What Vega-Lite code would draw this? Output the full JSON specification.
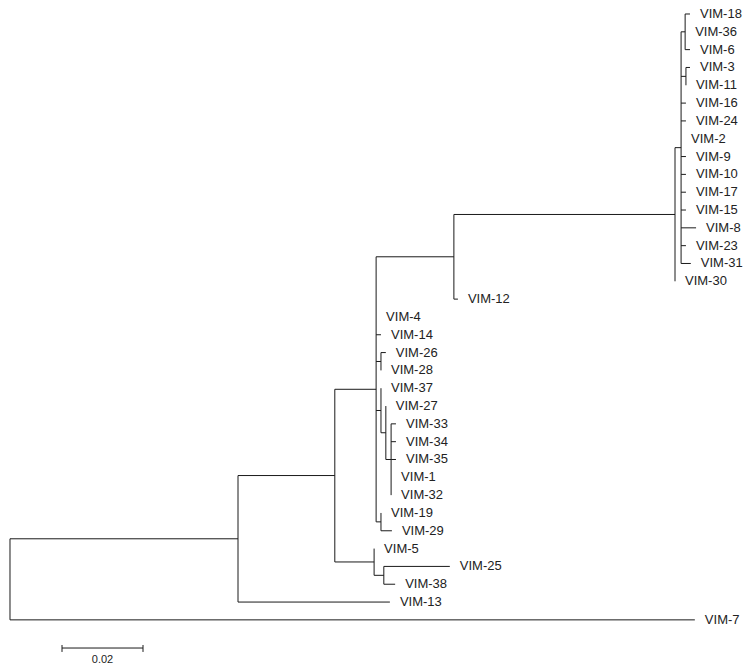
{
  "$schema": "https://vega.github.io/schema/vega-lite/v6.json",
  "width": 750,
  "height": 670,
  "autosize": {"type": "none"},
  "padding": 0,
  "background": "white",
  "config": {"view": {"stroke": null}},
  "datasets": {
    "branches": [
      {"x": 0, "x2": 0.0563, "y": 29.45, "y2": 29.45},
      {"x": 0, "x2": 0.1691, "y": 34, "y2": 34},
      {"x": 0.0563, "x2": 0.0802, "y": 25.9, "y2": 25.9},
      {"x": 0.0563, "x2": 0.0938, "y": 33, "y2": 33},
      {"x": 0.0802, "x2": 0.0904, "y": 21.06, "y2": 21.06},
      {"x": 0.0802, "x2": 0.0899, "y": 30.75, "y2": 30.75},
      {"x": 0.0899, "x2": 0.0923, "y": 31.5, "y2": 31.5},
      {"x": 0.0923, "x2": 0.1086, "y": 31, "y2": 31},
      {"x": 0.0923, "x2": 0.0951, "y": 32, "y2": 32},
      {"x": 0.0904, "x2": 0.1096, "y": 13.625, "y2": 13.625},
      {"x": 0.0904, "x2": 0.0916, "y": 18, "y2": 18},
      {"x": 0.0904, "x2": 0.0916, "y": 19.5, "y2": 19.5},
      {"x": 0.0916, "x2": 0.0928, "y": 19, "y2": 19},
      {"x": 0.0904, "x2": 0.0916, "y": 22.25, "y2": 22.25},
      {"x": 0.0916, "x2": 0.0928, "y": 23.5, "y2": 23.5},
      {"x": 0.0928, "x2": 0.0941, "y": 25, "y2": 25},
      {"x": 0.0941, "x2": 0.0953, "y": 23, "y2": 23},
      {"x": 0.0941, "x2": 0.0953, "y": 24, "y2": 24},
      {"x": 0.0941, "x2": 0.0953, "y": 25, "y2": 25},
      {"x": 0.0904, "x2": 0.0916, "y": 28.5, "y2": 28.5},
      {"x": 0.0916, "x2": 0.0943, "y": 29, "y2": 29},
      {"x": 0.1096, "x2": 0.1642, "y": 11.25, "y2": 11.25},
      {"x": 0.1096, "x2": 0.1106, "y": 16, "y2": 16},
      {"x": 0.1642, "x2": 0.1657, "y": 7.5, "y2": 7.5},
      {"x": 0.1657, "x2": 0.1667, "y": 1, "y2": 1},
      {"x": 0.1667, "x2": 0.1679, "y": 0, "y2": 0},
      {"x": 0.1667, "x2": 0.1679, "y": 2, "y2": 2},
      {"x": 0.1657, "x2": 0.1669, "y": 3.5, "y2": 3.5},
      {"x": 0.1669, "x2": 0.1679, "y": 3, "y2": 3},
      {"x": 0.1657, "x2": 0.1669, "y": 5, "y2": 5},
      {"x": 0.1657, "x2": 0.1669, "y": 6, "y2": 6},
      {"x": 0.1657, "x2": 0.1669, "y": 8, "y2": 8},
      {"x": 0.1657, "x2": 0.1669, "y": 9, "y2": 9},
      {"x": 0.1657, "x2": 0.1669, "y": 10, "y2": 10},
      {"x": 0.1657, "x2": 0.1669, "y": 11, "y2": 11},
      {"x": 0.1657, "x2": 0.1694, "y": 12, "y2": 12},
      {"x": 0.1657, "x2": 0.1669, "y": 13, "y2": 13},
      {"x": 0.1657, "x2": 0.1681, "y": 14, "y2": 14},
      {"x": 0, "x2": 0, "y": 29.45, "y2": 34},
      {"x": 0.0563, "x2": 0.0563, "y": 25.9, "y2": 33},
      {"x": 0.0802, "x2": 0.0802, "y": 21.06, "y2": 30.75},
      {"x": 0.0899, "x2": 0.0899, "y": 30, "y2": 31.5},
      {"x": 0.0923, "x2": 0.0923, "y": 31, "y2": 32},
      {"x": 0.0904, "x2": 0.0904, "y": 13.625, "y2": 28.5},
      {"x": 0.0916, "x2": 0.0916, "y": 19, "y2": 20},
      {"x": 0.0916, "x2": 0.0916, "y": 21, "y2": 23.5},
      {"x": 0.0928, "x2": 0.0928, "y": 22, "y2": 25},
      {"x": 0.0941, "x2": 0.0941, "y": 23, "y2": 27},
      {"x": 0.0916, "x2": 0.0916, "y": 28, "y2": 29},
      {"x": 0.1096, "x2": 0.1096, "y": 11.25, "y2": 16},
      {"x": 0.1642, "x2": 0.1642, "y": 7.5, "y2": 15},
      {"x": 0.1657, "x2": 0.1657, "y": 1, "y2": 14},
      {"x": 0.1667, "x2": 0.1667, "y": 0, "y2": 2},
      {"x": 0.1669, "x2": 0.1669, "y": 3, "y2": 4},
      {"x": 0.01284, "x2": 0.03284, "y": 35.58, "y2": 35.58},
      {"x": 0.01284, "x2": 0.01284, "y": 35.41, "y2": 35.8},
      {"x": 0.03284, "x2": 0.03284, "y": 35.41, "y2": 35.8}
    ],
    "leaves": [
      {"name": "VIM-18", "row": 0, "end": 0.1679},
      {"name": "VIM-36", "row": 1, "end": 0.1667},
      {"name": "VIM-6", "row": 2, "end": 0.1679},
      {"name": "VIM-3", "row": 3, "end": 0.1679},
      {"name": "VIM-11", "row": 4, "end": 0.1669},
      {"name": "VIM-16", "row": 5, "end": 0.1669},
      {"name": "VIM-24", "row": 6, "end": 0.1669},
      {"name": "VIM-2", "row": 7, "end": 0.1657},
      {"name": "VIM-9", "row": 8, "end": 0.1669},
      {"name": "VIM-10", "row": 9, "end": 0.1669},
      {"name": "VIM-17", "row": 10, "end": 0.1669},
      {"name": "VIM-15", "row": 11, "end": 0.1669},
      {"name": "VIM-8", "row": 12, "end": 0.1694},
      {"name": "VIM-23", "row": 13, "end": 0.1669},
      {"name": "VIM-31", "row": 14, "end": 0.1681},
      {"name": "VIM-30", "row": 15, "end": 0.1642},
      {"name": "VIM-12", "row": 16, "end": 0.1106},
      {"name": "VIM-4", "row": 17, "end": 0.0904},
      {"name": "VIM-14", "row": 18, "end": 0.0916},
      {"name": "VIM-26", "row": 19, "end": 0.0928},
      {"name": "VIM-28", "row": 20, "end": 0.0916},
      {"name": "VIM-37", "row": 21, "end": 0.0916},
      {"name": "VIM-27", "row": 22, "end": 0.0928},
      {"name": "VIM-33", "row": 23, "end": 0.0953},
      {"name": "VIM-34", "row": 24, "end": 0.0953},
      {"name": "VIM-35", "row": 25, "end": 0.0953},
      {"name": "VIM-1", "row": 26, "end": 0.0941},
      {"name": "VIM-32", "row": 27, "end": 0.0941},
      {"name": "VIM-19", "row": 28, "end": 0.0916},
      {"name": "VIM-29", "row": 29, "end": 0.0943},
      {"name": "VIM-5", "row": 30, "end": 0.0899},
      {"name": "VIM-25", "row": 31, "end": 0.1086},
      {"name": "VIM-38", "row": 32, "end": 0.0951},
      {"name": "VIM-13", "row": 33, "end": 0.0938},
      {"name": "VIM-7", "row": 34, "end": 0.1691}
    ],
    "scalelabel": [
      {"label": "0.02", "x": 0.02284, "y": 36.25}
    ]
  },
  "layer": [
    {
      "data": {"name": "branches"},
      "mark": {"type": "rule", "color": "#1a1a1a", "strokeWidth": 1},
      "encoding": {
        "x": {"field": "x", "type": "quantitative", "scale": {"domain": [-0.002469, 0.182716], "nice": false, "zero": false}, "axis": null},
        "x2": {"field": "x2"},
        "y": {"field": "y", "type": "quantitative", "scale": {"domain": [-0.7856, 36.813], "nice": false, "zero": false, "reverse": true}, "axis": null},
        "y2": {"field": "y2"}
      }
    },
    {
      "data": {"name": "leaves"},
      "mark": {"type": "text", "align": "left", "baseline": "middle", "dx": 10, "font": "Liberation Sans", "fontSize": 13, "color": "#222222"},
      "encoding": {
        "x": {"field": "end", "type": "quantitative"},
        "y": {"field": "row", "type": "quantitative"},
        "text": {"field": "name"}
      }
    },
    {
      "data": {"name": "scalelabel"},
      "mark": {"type": "text", "align": "center", "baseline": "middle", "font": "Liberation Sans", "fontSize": 11, "color": "#222222"},
      "encoding": {
        "x": {"field": "x", "type": "quantitative"},
        "y": {"field": "y", "type": "quantitative"},
        "text": {"field": "label"}
      }
    }
  ]
}
